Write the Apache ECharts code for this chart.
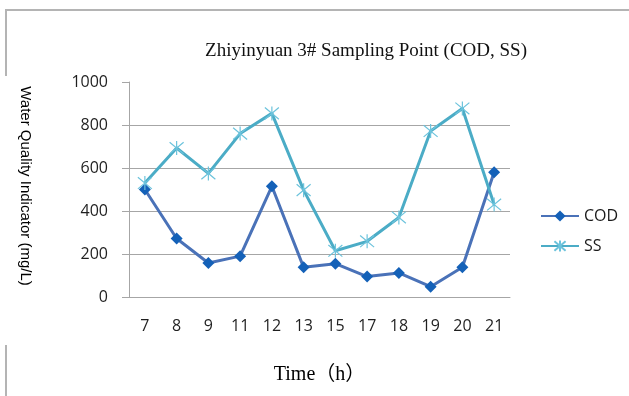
<!DOCTYPE html>
<html>
<head>
<meta charset="utf-8">
<script src="https://cdn.jsdelivr.net/npm/echarts@6/dist/echarts.min.js"></script>
<style>
  html, body { margin: 0; padding: 0; background: #fff; }
  #chart { width: 629px; height: 396px; }
</style>
</head>
<body>
<div id="chart"></div>
<script>
// Sampling hours (h)
const hours = ['7', '8', '9', '11', '12', '13', '15', '17', '18', '19', '20', '21'];
// COD concentration (mg/L)
const codValues = [500, 272, 158, 190, 515, 138, 155, 95, 112, 48, 138, 580];
// Suspended solids (mg/L)
const ssValues = [530, 693, 575, 760, 854, 497, 215, 259, 370, 772, 877, 430];
// Value axis ticks
const yTicks = [0, 200, 400, 600, 800, 1000];

const gridColor = '#a6a6a6';
const codColor = '#4a72b8';
const codMarker = '#1461b8';
const ssColor = '#4bacc6';

const chart = echarts.init(document.getElementById('chart'));

// asterisk marker: X crossed with a vertical stroke
const starPath = 'path://M0,0 L10,10 M10,0 L0,10 M5,-1 L5,11';

chart.setOption({
  animation: false,
  backgroundColor: '#fff',
  grid: { left: 129, right: 119, top: 82, bottom: 99 },
  legend: {
    orient: 'vertical',
    left: 535,
    top: 203,
    itemGap: 14,
    itemWidth: 38,
    itemHeight: 14,
    textStyle: { fontFamily: 'Open Sans', fontSize: 16, color: '#1a1a1a' },
    data: ['COD', 'SS']
  },
  xAxis: {
    type: 'category',
    data: hours,
    boundaryGap: true,
    name: 'Time（h）',
    nameLocation: 'middle',
    nameGap: 68,
    nameTextStyle: { fontFamily: 'Liberation Serif, Noto Sans CJK SC', fontSize: 20, color: '#000' },
    axisLine: { lineStyle: { color: gridColor, width: 1 } },
    axisTick: { show: false },
    axisLabel: { margin: 21, fontFamily: 'Open Sans', fontSize: 16, color: '#1f1f1f' }
  },
  yAxis: {
    type: 'value',
    min: yTicks[0],
    max: yTicks[yTicks.length - 1],
    interval: yTicks[1] - yTicks[0],
    axisLine: { show: true, lineStyle: { color: gridColor, width: 1 } },
    axisTick: { show: true, length: 7, lineStyle: { color: gridColor } },
    axisLabel: {
      margin: 21,
      fontFamily: 'Open Sans',
      fontSize: 16,
      color: '#1f1f1f',
      formatter: (v) => String(v)
    },
    splitLine: {
      show: true,
      lineStyle: {
        color: [gridColor, gridColor, gridColor, gridColor, gridColor, 'rgba(0,0,0,0)'],
        width: 1
      }
    }
  },
  series: [
    {
      name: 'COD',
      type: 'line',
      data: codValues,
      symbol: 'diamond',
      symbolSize: 12,
      lineStyle: { color: codColor, width: 3 },
      itemStyle: { color: codMarker }
    },
    {
      name: 'SS',
      type: 'line',
      data: ssValues,
      symbol: starPath,
      symbolSize: 14,
      lineStyle: { color: ssColor, width: 3 },
      itemStyle: { color: 'rgba(0,0,0,0)', borderColor: '#6cc3dc', borderWidth: 1.2 }
    }
  ],
  graphic: [
    // frame edges
    { type: 'line', shape: { x1: 5, y1: 10, x2: 629, y2: 10 }, style: { stroke: '#b4b4b4', lineWidth: 2 } },
    { type: 'line', shape: { x1: 6, y1: 10, x2: 6, y2: 76 }, style: { stroke: '#b4b4b4', lineWidth: 2 } },
    { type: 'line', shape: { x1: 6, y1: 345, x2: 6, y2: 396 }, style: { stroke: '#b4b4b4', lineWidth: 2 } },
    {
      type: 'text',
      x: 366, y: 51,
      style: {
        text: 'Zhiyinyuan 3# Sampling Point (COD, SS)',
        font: '19px "Liberation Serif"',
        fill: '#111',
        textAlign: 'center',
        textVerticalAlign: 'middle'
      }
    },
    {
      type: 'text',
      x: 25, y: 186,
      rotation: -Math.PI / 2,
      style: {
        text: 'Water Quality Indicator (mg/L)',
        font: '15px "Liberation Sans"',
        fill: '#000',
        textAlign: 'center',
        textVerticalAlign: 'middle'
      }
    }
  ]
});
</script>
</body>
</html>
